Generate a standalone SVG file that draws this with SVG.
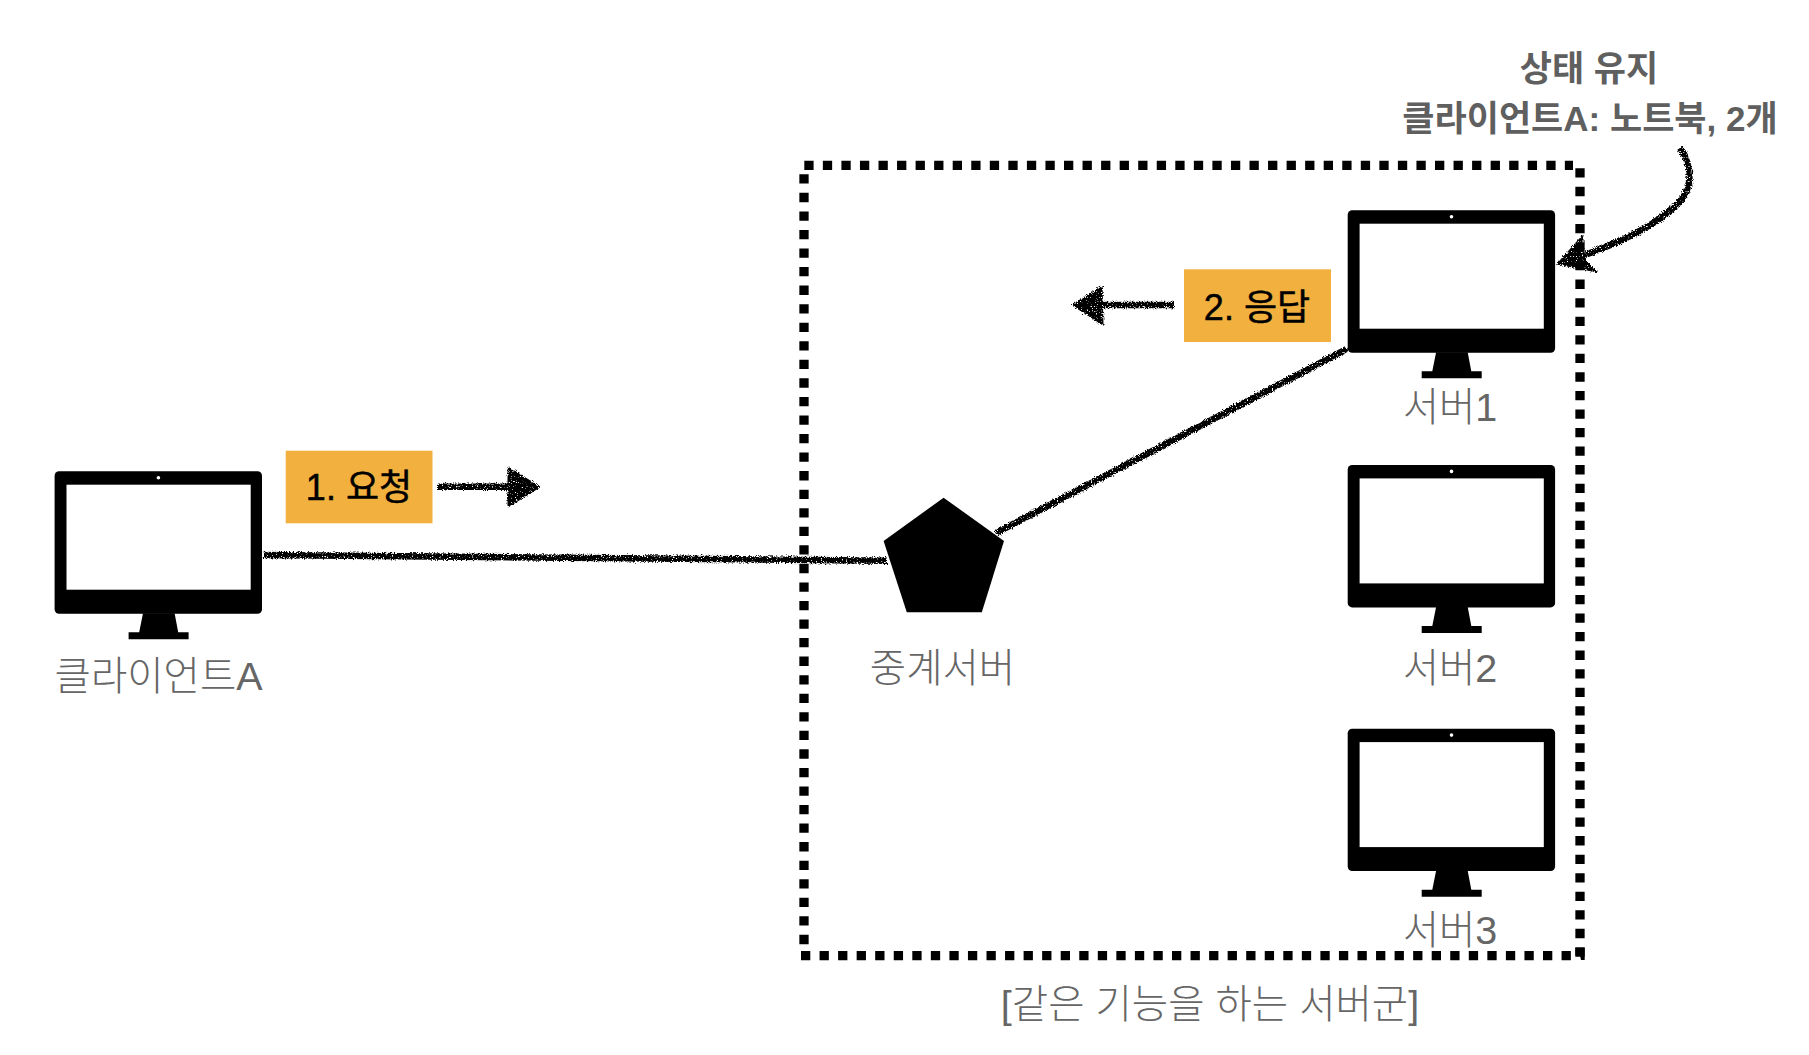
<svg xmlns="http://www.w3.org/2000/svg" width="1809" height="1055" viewBox="0 0 1809 1055">
<style>
text{font-family:"Liberation Sans","Noto Sans CJK KR",sans-serif}
.lbl{font-size:39.5px;fill:#666;font-weight:300;text-anchor:middle}
.note{font-size:35px;fill:#5f5f5f;font-weight:700;text-anchor:middle}
.tag{font-size:36px;fill:#000;stroke:#000;stroke-width:.5;text-anchor:middle}
.box{fill:#f2b13f}
.dots{fill:none;stroke:#000;stroke-width:9.3;stroke-dasharray:9.3 9.25}
.rough{fill:none;stroke:#000;stroke-width:6.5;stroke-linecap:butt}
.head{fill:#000;stroke:#000;stroke-width:1}
</style>
<defs>
<filter id="chalk" filterUnits="userSpaceOnUse" x="0" y="0" width="1809" height="1055" color-interpolation-filters="sRGB">
<feTurbulence type="fractalNoise" baseFrequency="0.9" numOctaves="2" seed="4" result="n"/>
<feDisplacementMap in="SourceGraphic" in2="n" scale="5" xChannelSelector="R" yChannelSelector="G" result="d"/>
<feTurbulence type="fractalNoise" baseFrequency="0.8" numOctaves="1" seed="11"/>
<feColorMatrix type="matrix" values="0 0 0 0 0 0 0 0 0 0 0 0 0 0 0 9 0 0 0 -5.6" result="s"/>
<feComposite in="d" in2="s" operator="out"/>
</filter>
<g id="monitor">
<rect x="0" y="0" width="207.4" height="142.4" rx="4.5" fill="#000"/>
<rect x="11.9" y="13.4" width="184.2" height="105" fill="#fff"/>
<circle cx="103.8" cy="6.4" r="1.8" fill="#fff"/>
<path d="M88.4 142 H120 L123.6 161 H134 V168 H74 V161 H84.6Z" fill="#000"/>
</g>
</defs>
<rect width="1809" height="1055" fill="#fff"/>
<g id="server-group">
<path class="dots" d="M804.3 165.3H1573"/>
<path class="dots" d="M1580 168.3V957"/>
<path d="M1575.3 947.4H1584.7V960H1581L1580 955.5H1575.3Z" fill="#000"/>
<path class="dots" d="M804 174.3V945"/>
<path class="dots" d="M801 955.7H1571"/>
<text class="lbl" x="1210" y="1018">[같은 기능을 하는 서버군]</text>
</g>
<g id="connectors" filter="url(#chalk)">
<path class="rough" d="M263 555L887 560.7"/>
<path class="rough" d="M996 533L1347 349"/>
<path class="rough" d="M438 486.7H510"/>
<path class="head" d="M508 467L540 487L508 507Z"/>
<path class="rough" d="M1174 305H1100"/>
<path class="head" d="M1072 305L1102 286L1103 325Z"/>
<path class="rough" d="M1680 148C1696 172 1692 195 1668 212C1645 232 1610 246 1582 256"/>
<path class="head" d="M1557 264L1583 235L1583 258L1597 272Z"/>
</g>
<g id="client-a"><use href="#monitor" x="54.6" y="471.3"/><text class="lbl" x="158.6" y="690">클라이언트A</text></g>
<g id="proxy"><path d="M943.6 497.7L1004 541L981.8 612.3H906.8L883.6 541Z" fill="#000"/><text class="lbl" x="942.5" y="681.7">중계서버</text></g>
<g id="server1"><use href="#monitor" x="1347.7" y="210.3"/><text class="lbl" x="1450" y="421">서버1</text></g>
<g id="server2"><use href="#monitor" x="1347.7" y="465"/><text class="lbl" x="1450" y="682">서버2</text></g>
<g id="server3"><use href="#monitor" x="1347.7" y="728.7"/><text class="lbl" x="1450" y="944">서버3</text></g>
<g id="tag-request"><rect class="box" x="285.7" y="450.7" width="146.8" height="72.6"/><text class="tag" x="359" y="500">1. 요청</text></g>
<g id="tag-response"><rect class="box" x="1184" y="269.3" width="147" height="72.7"/><text class="tag" x="1257" y="319.5">2. 응답</text></g>
<g id="note"><text class="note" x="1589" y="81">상태 유지</text><text class="note" x="1590" y="131">클라이언트A: 노트북, 2개</text></g>
</svg>
